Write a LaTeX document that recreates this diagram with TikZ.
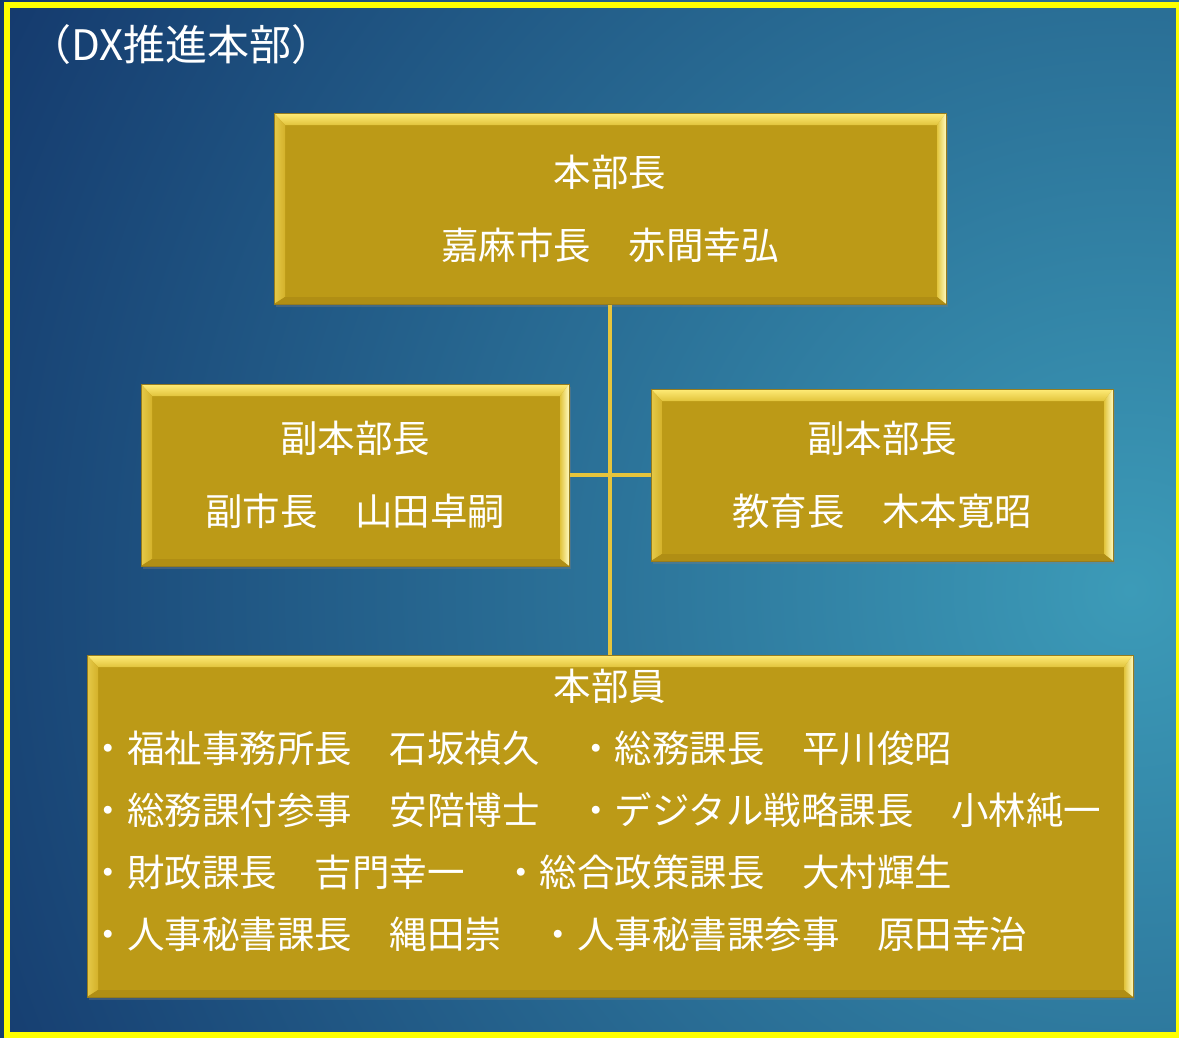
\documentclass[tikz,border=0pt]{standalone}
\usepackage{fontspec}
\setmainfont{Noto Sans CJK JP}
\usetikzlibrary{positioning, shadows}

\definecolor{bgdark}{RGB}{18,52,105}
\definecolor{bglight}{RGB}{60,155,184}
\definecolor{frameyellow}{RGB}{255,255,0}
\definecolor{gold}{RGB}{188,154,23}
\definecolor{goldedge}{RGB}{150,124,30}
\definecolor{goldhi}{RGB}{255,236,120}
\definecolor{goldtop}{RGB}{226,196,60}
\definecolor{goldleft}{RGB}{212,178,42}
\definecolor{goldright}{RGB}{255,250,190}
\definecolor{golddark}{RGB}{176,142,20}
\definecolor{linkgold}{RGB}{230,196,60}

\tikzset{
  bevel/.style={path picture={
    \coordinate (o1) at (path picture bounding box.north west);
    \coordinate (o2) at (path picture bounding box.north east);
    \coordinate (o3) at (path picture bounding box.south east);
    \coordinate (o4) at (path picture bounding box.south west);
    \coordinate (i1) at ([shift={(11pt,-12pt)}]o1);
    \coordinate (i2) at ([shift={(-9pt,-12pt)}]o2);
    \coordinate (i3) at ([shift={(-9pt,7pt)}]o3);
    \coordinate (i4) at ([shift={(11pt,7pt)}]o4);
    \shade[top color=goldhi, bottom color=goldtop] (o1) -- (o2) -- (i2) -- (i1) -- cycle;
    \shade[left color=goldleft!60!goldhi, right color=goldleft] (o1) -- (i1) -- (i4) -- (o4) -- cycle;
    \shade[left color=goldtop, right color=goldright] (o2) -- (o3) -- (i3) -- (i2) -- cycle;
    \fill[golddark] (o4) -- (i4) -- (i3) -- (o3) -- cycle;
  }},
  goldbox/.style={rectangle, fill=gold, draw=goldedge, line width=1pt, inner sep=0pt, bevel,
    drop shadow={opacity=0.35, shadow xshift=2pt, shadow yshift=-3pt},
    text=white, align=center, font=\fontsize{37.5}{73}\selectfont},
  memtext/.style={inner sep=0pt, text=white, font=\fontsize{37.5}{62}\selectfont},
  link/.style={draw=linkgold, line width=4.5pt},
}

\begin{document}
\begin{tikzpicture}[x=1pt, y=-1pt]
\useasboundingbox (0,0) rectangle (1179,1037);
\begin{scope}
\clip (0,0) rectangle (1179,1037);
\shade[inner color=bglight, outer color=bgdark] (1130,590) circle (1350);
\end{scope}
\draw[frameyellow, line width=6pt] (6.5,4.5) rectangle (1179,1035);

\node[inner sep=0pt, text=white, anchor=west, font=\fontsize{42}{48}\selectfont] (title) at (29,45) {（DX推進本部）};

\node[goldbox, minimum width=672pt, minimum height=191pt] (chief) at (610,208.5) {本部長\\嘉麻市長　赤間幸弘};
\node[goldbox, minimum width=428pt, minimum height=182pt] (depL) at (355,475) {副本部長\\副市長　山田卓嗣};
\node[goldbox, minimum width=462pt, minimum height=172pt] (depR) at (882,475) {副本部長\\教育長　木本寛昭};
\node[goldbox, minimum width=1046pt, minimum height=342pt] (members) at (610,826) {};

\node[memtext, below=14pt of members.north] (memhead) {本部員};
\node[memtext, align=left, anchor=west] (memlist) at ([xshift=3pt, yshift=-15pt]members.west)
  {・福祉事務所長　石坂禎久　・総務課長　平川俊昭\\
   ・総務課付参事　安陪博士　・デジタル戦略課長　小林純一\\
   ・財政課長　吉門幸一　・総合政策課長　大村輝生\\
   ・人事秘書課長　縄田崇　・人事秘書課参事　原田幸治};

\draw[link]
    (chief) -- (members)
    (depL) -- (depR)
    ;
\end{tikzpicture}
\end{document}
